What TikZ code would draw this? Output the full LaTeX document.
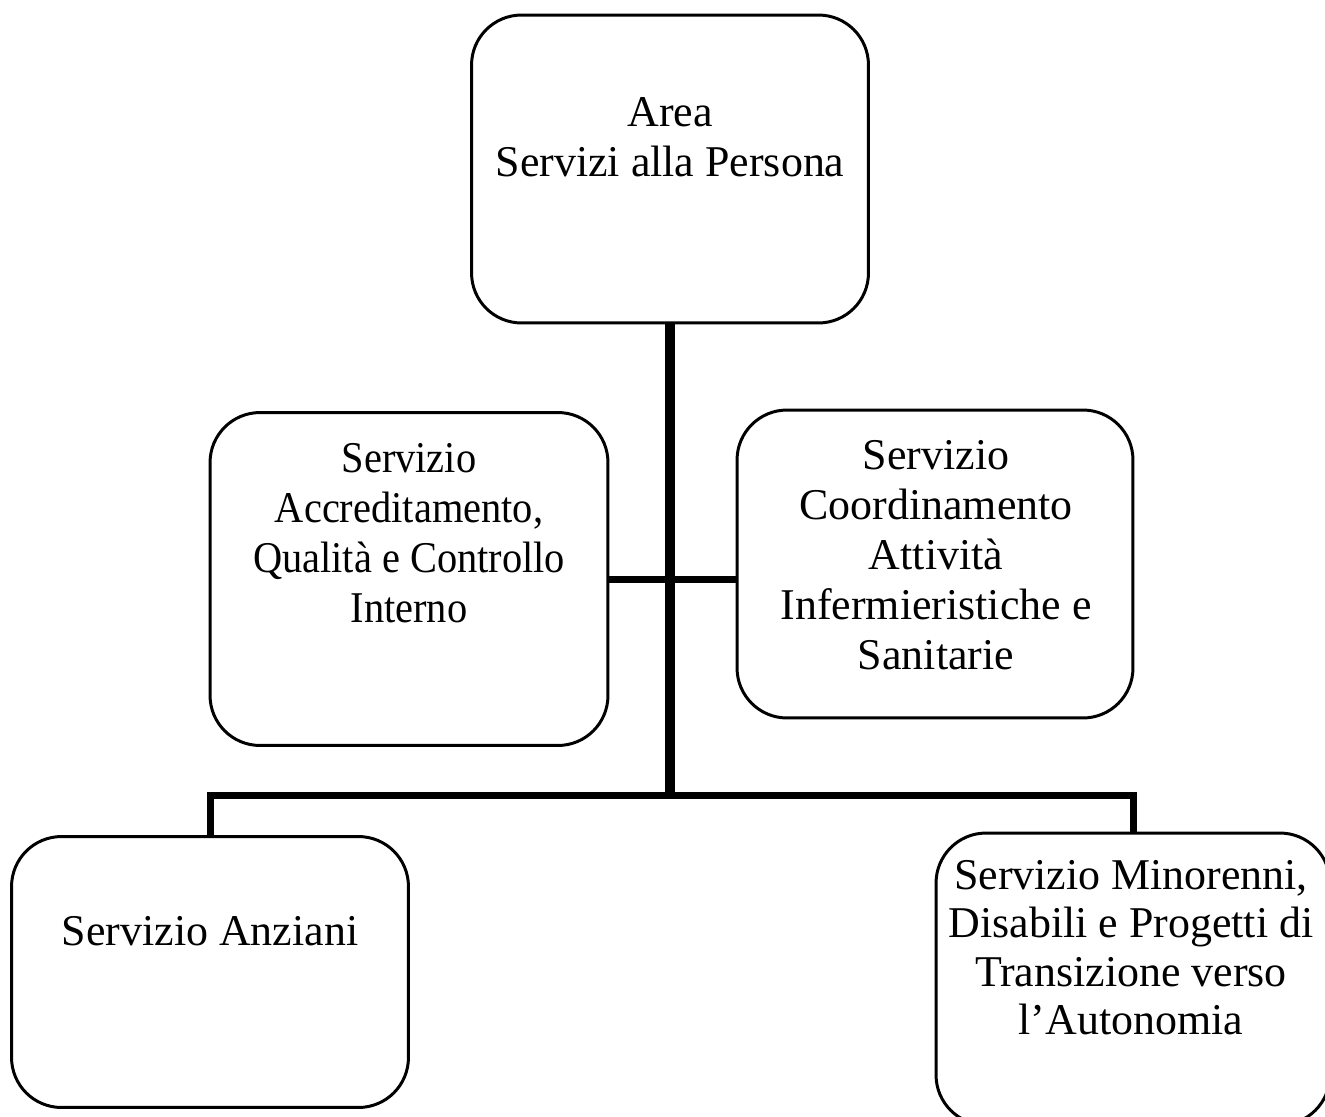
\documentclass[tikz,border=0pt]{standalone}
\usepackage{fontspec}
\setmainfont{Liberation Serif}
\newfontfamily\narrowserif[FakeStretch=0.92]{Liberation Serif}
\tikzset{
  unitbox/.style={draw, line width=1.7pt, rounded corners=1cm, inner sep=0pt},
  boxtext/.style={align=center, inner sep=0pt, font=\fontsize{25}{28.5}\selectfont},
  trunk/.style={line width=0.2cm},
  branch/.style={line width=0.14cm}
}
\begin{document}
\begin{tikzpicture}[x=0.02cm,y=-0.02cm]
      \useasboundingbox (0,0) rectangle (1325,1116);

      \node[unitbox, minimum width=7.94cm, minimum height=6.16cm] at (670,169) (area) {};
      \node[unitbox, minimum width=7.96cm, minimum height=6.66cm] at (409,579) (accred) {};
      \node[unitbox, minimum width=7.92cm, minimum height=6.16cm] at (935,564) (coord) {};
      \node[unitbox, minimum width=7.94cm, minimum height=5.42cm] at (210,972) (anziani) {};
      \node[unitbox, minimum width=7.88cm, minimum height=5.84cm] at (1133,979) (minori) {};

      \node[boxtext, anchor=north] at (670,97) (areatxt) {Area\\Servizi alla Persona};
      \node[boxtext, anchor=north, font=\narrowserif\fontsize{25}{28.5}\selectfont] at (409,443) (accredtxt) {Servizio\\Accreditamento,\\Qualità e Controllo\\Interno};
      \node[boxtext, anchor=north] at (936,440) (coordtxt) {Servizio\\Coordinamento\\Attività\\Infermieristiche e\\Sanitarie};
      \node[boxtext, anchor=base] at (210,945) (anzianitxt) {Servizio Anziani};
      \node[boxtext, anchor=north, font=\fontsize{25}{27.6}\selectfont] at (1131,860) (minoritxt) {Servizio Minorenni,\\Disabili e Progetti di\\Transizione verso\\l’Autonomia};

      \coordinate (hub) at (670,795);

      % draw edges
      \draw[trunk] (area.south) -- (hub);
      \draw[branch] (accred.east) -- (accred.east -| coord.west);
      \draw[branch] (anziani.north) |- (hub) -| (minori.north);
  \end{tikzpicture}
\end{document}
